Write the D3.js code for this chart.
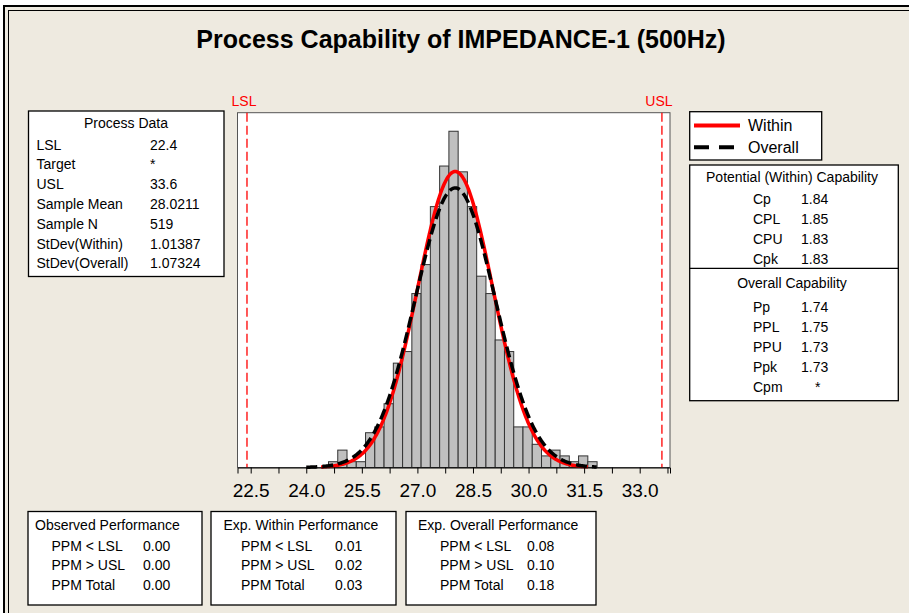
<!DOCTYPE html>
<html>
<head>
<meta charset="utf-8">
<script src="https://cdn.jsdelivr.net/npm/d3@7"></script>
<style>
  body { margin: 0; background: #fff; }
  text { font-family: "Liberation Sans", Arial, sans-serif; }
</style>
</head>
<body>
<div id="chart"></div>
<script>
// Process capability histogram (Minitab style) drawn with d3

// --- data ---
var binStart = 24.6;     // left edge of first bar
var binWidth = 0.25;
var binCounts = [1, 3, 1, 1, 6, 7, 11, 18, 20, 30, 35, 45, 52, 58, 51, 45, 33, 30, 22, 20, 7, 7, 4, 2, 3, 2, 1, 2, 1];

var lsl = 22.4;
var usl = 33.6;
var sampleMean = 28.0211;
var sampleN = 519;
var stdevWithin = 1.01387;
var stdevOverall = 1.07324;
var withinRange = [24.4, 31.6];    // x extent of the within curve
var overallRange = [24.0, 31.85];  // x extent of the overall curve

var xTicks = [22.5, 23.25, 24.0, 24.75, 25.5, 26.25, 27.0, 27.75, 28.5, 29.25, 30.0, 30.75, 31.5, 32.25, 33.0, 33.75];
var xTickLabels = ["22.5", "24.0", "25.5", "27.0", "28.5", "30.0", "31.5", "33.0"];

var processLabels = ["LSL", "Target", "USL", "Sample Mean", "Sample N", "StDev(Within)", "StDev(Overall)"];
var processValues = ["22.4", "*", "33.6", "28.0211", "519", "1.01387", "1.07324"];

var withinLabels = ["Cp", "CPL", "CPU", "Cpk"];
var withinValues = ["1.84", "1.85", "1.83", "1.83"];
var overallLabels = ["Pp", "PPL", "PPU", "Ppk", "Cpm"];
var overallValues = ["1.74", "1.75", "1.73", "1.73", "*"];

var perfTitles = ["Observed Performance", "Exp. Within Performance", "Exp. Overall Performance"];
var perfLabels = ["PPM < LSL", "PPM > USL", "PPM Total"];
var perfValues = [["0.00", "0.00", "0.00"], ["0.01", "0.02", "0.03"], ["0.08", "0.10", "0.18"]];

// --- page ---
var width = 909;
var height = 613;
var bg = "#eeeae0";

var svg = d3.select("#chart")
  .append("svg")
    .attr("width", width)
    .attr("height", height);

svg.append("rect")
  .attr("width", width).attr("height", height)
  .attr("fill", "#fff");
svg.append("rect")
  .attr("x", 4).attr("y", 6)
  .attr("width", width).attr("height", height)
  .attr("fill", bg)
  .attr("stroke", "#000").attr("stroke-width", 2);
svg.append("rect")
  .attr("x", 8.5).attr("y", 10.5)
  .attr("width", width).attr("height", height)
  .attr("fill", "none")
  .attr("stroke", "#000").attr("stroke-width", 1);

svg.append("text")
  .attr("x", 461).attr("y", 48)
  .attr("text-anchor", "middle")
  .style("font-size", "25px").style("font-weight", "bold")
  .text("Process Capability of IMPEDANCE-1 (500Hz)");

// --- plot area ---
var plot = { left: 237.5, right: 670, top: 112.7, bottom: 467.5 };

var x = d3.scaleLinear()
  .domain([22.144, 33.818])
  .range([plot.left, plot.right]);

var y = d3.scaleLinear()
  .domain([0, 61.2])
  .range([plot.bottom, plot.top]);

svg.append("rect")
  .attr("x", plot.left).attr("y", plot.top)
  .attr("width", plot.right - plot.left).attr("height", plot.bottom - plot.top)
  .attr("fill", "#fff")
  .attr("stroke", "#555").attr("stroke-width", 1);

// bars
svg.append("g").selectAll("rect")
  .data(binCounts)
  .enter()
  .append("rect")
    .attr("x", function(d, i) { return x(binStart + i * binWidth); })
    .attr("width", function(d, i) { return x(binStart + (i + 1) * binWidth) - x(binStart + i * binWidth); })
    .attr("y", function(d) { return y(d); })
    .attr("height", function(d) { return y(0) - y(d); })
    .attr("fill", "#c0c0c0")
    .attr("stroke", "#333")
    .attr("stroke-width", 1);

// normal curves scaled to counts
function normalCurve(mu, sigma, range) {
  var scale = sampleN * binWidth / (sigma * Math.sqrt(2 * Math.PI));
  return d3.range(range[0], range[1] + 0.001, 0.02).map(function(v) {
    var z = (v - mu) / sigma;
    return [v, scale * Math.exp(-0.5 * z * z)];
  });
}

var line = d3.line()
  .x(function(d) { return x(d[0]); })
  .y(function(d) { return y(d[1]); });

svg.append("path")
  .datum(normalCurve(sampleMean, stdevWithin, withinRange))
  .attr("d", line)
  .attr("fill", "none")
  .attr("stroke", "#ff0000")
  .attr("stroke-width", 3.5);

svg.append("path")
  .datum(normalCurve(sampleMean, stdevOverall, overallRange))
  .attr("d", line)
  .attr("fill", "none")
  .attr("stroke", "#000")
  .attr("stroke-width", 3.5)
  .attr("stroke-dasharray", "11,5");

// spec limits
[[lsl, "LSL"], [usl, "USL"]].forEach(function(s) {
  svg.append("line")
    .attr("x1", x(s[0])).attr("x2", x(s[0]))
    .attr("y1", plot.top).attr("y2", plot.bottom)
    .attr("stroke", "#ff0000")
    .attr("stroke-width", 1.3)
    .attr("stroke-dasharray", "9,4");
  svg.append("text")
    .attr("x", x(s[0]) - 3).attr("y", 106)
    .attr("text-anchor", "middle")
    .attr("fill", "#ff0000")
    .style("font-size", "14px")
    .text(s[1]);
});

// x axis
var xAxis = d3.axisBottom(x)
  .tickValues(xTicks)
  .tickSize(6)
  .tickFormat(function(d) {
    var s = d.toFixed(1);
    return xTickLabels.indexOf(s) > -1 ? s : "";
  });

var gx = svg.append("g")
  .attr("transform", "translate(0," + plot.bottom + ")")
  .call(xAxis);
gx.select(".domain").attr("stroke", "#000");
gx.selectAll(".tick line").attr("stroke", "#000");
gx.selectAll(".tick text")
  .attr("fill", "#000")
  .attr("dy", "0")
  .attr("y", 29)
  .style("font-family", "'Liberation Sans', Arial, sans-serif")
  .style("font-size", "19px");

// --- boxes ---
function box(x0, y0, w, h) {
  svg.append("rect")
    .attr("x", x0).attr("y", y0)
    .attr("width", w).attr("height", h)
    .attr("fill", "#fff")
    .attr("stroke", "#000").attr("stroke-width", 1.3);
}

function txt(tx, ty, s, anchor, size) {
  svg.append("text")
    .attr("x", tx).attr("y", ty)
    .attr("text-anchor", anchor || "start")
    .style("font-size", (size || 14) + "px")
    .text(s);
}

// process data
box(28.5, 111, 195.5, 165.5);
txt(126, 128, "Process Data", "middle");
processLabels.forEach(function(l, i) {
  txt(36.5, 149.5 + i * 19.8, l);
  txt(150, 149.5 + i * 19.8, processValues[i]);
});

// legend
box(689.7, 111.7, 132, 48.3);
svg.append("line")
  .attr("x1", 694).attr("x2", 740).attr("y1", 125.5).attr("y2", 125.5)
  .attr("stroke", "#ff0000").attr("stroke-width", 4);
svg.append("line")
  .attr("x1", 694).attr("x2", 740).attr("y1", 147.3).attr("y2", 147.3)
  .attr("stroke", "#000").attr("stroke-width", 4)
  .attr("stroke-dasharray", "15,10");
txt(748, 131, "Within", "start", 16);
txt(748, 152.5, "Overall", "start", 16);

// capability
box(689.7, 165, 208.6, 235.7);
svg.append("line")
  .attr("x1", 689.7).attr("x2", 898.3).attr("y1", 268.3).attr("y2", 268.3)
  .attr("stroke", "#000").attr("stroke-width", 1.3);
txt(792, 182, "Potential (Within) Capability", "middle");
withinLabels.forEach(function(l, i) {
  txt(753, 203.5 + i * 20, l);
  txt(801, 203.5 + i * 20, withinValues[i]);
});
txt(792, 288, "Overall Capability", "middle");
overallLabels.forEach(function(l, i) {
  txt(753, 311.5 + i * 20, l);
  txt(overallValues[i] == "*" ? 815 : 801, 311.5 + i * 20, overallValues[i]);
});

// performance boxes
var perfBoxes = [
  { x: 28, w: 174, tx: 35, lx: 51.5, vx: 143 },
  { x: 211, w: 185, tx: 223.5, lx: 241, vx: 335 },
  { x: 406, w: 190, tx: 418, lx: 440, vx: 527 }
];
perfBoxes.forEach(function(b, k) {
  box(b.x, 511.5, b.w, 93.5);
  txt(b.tx, 530, perfTitles[k]);
  perfLabels.forEach(function(l, i) {
    txt(b.lx, 550.5 + i * 19.5, l);
    txt(b.vx, 550.5 + i * 19.5, perfValues[k][i]);
  });
});
</script>
</body>
</html>
